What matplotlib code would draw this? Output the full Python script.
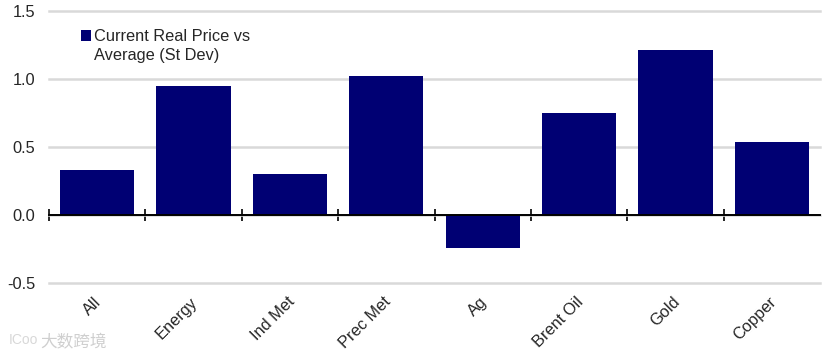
import matplotlib
matplotlib.use('Agg')
import matplotlib.pyplot as plt
from matplotlib.patches import Patch
from matplotlib.transforms import ScaledTranslation

categories = ['All', 'Energy', 'Ind Met', 'Prec Met', 'Ag', 'Brent Oil', 'Gold', 'Copper']
values = [0.33, 0.95, 0.30, 1.02, -0.24, 0.75, 1.21, 0.54]
y_ticks = [-0.5, 0.0, 0.5, 1.0, 1.5]
series_lines = ['Current Real Price vs', 'Average (St Dev)']

plt.rcParams['font.family'] = ['Liberation Sans', 'DejaVu Sans']
text_color = '#262626'

fig = plt.figure(figsize=(8.22, 3.58), dpi=100)
ax = fig.add_axes([49 / 822, 1 - 283 / 358, 771 / 822, 272 / 358])

x = range(len(categories))
bars = ax.bar(x, values, width=0.77, color='#000073', zorder=3)

ax.set_xlim(-0.5, len(categories) - 0.5)
ax.set_ylim(-0.5, 1.5)
ax.set_yticks(y_ticks)
ax.set_yticklabels(['%.1f' % t for t in y_ticks], fontsize=11.8, color=text_color)
ax.tick_params(axis='y', length=0, pad=10)
ax.grid(axis='y', color='#d9d9d9', linewidth=1.8, zorder=0, clip_on=False)
ax.set_axisbelow(True)

for side in ['top', 'right', 'left']:
    ax.spines[side].set_visible(False)
ax.spines['bottom'].set_position(('data', 0))
ax.spines['bottom'].set_linewidth(1.4)
ax.spines['bottom'].set_zorder(4)

# category labels sit below the plot, tick marks go between the bars
ax.set_xticks(list(x))
ax.set_xticklabels(categories, rotation=45, ha='right', va='center',
                   rotation_mode='anchor', fontsize=11.8, color=text_color)
ax.tick_params(axis='x', which='major', length=0, pad=61)
nudge = ScaledTranslation(2 / 100, 0, fig.dpi_scale_trans)
for label in ax.get_xticklabels():
    label.set_transform(label.get_transform() + nudge)
ax.set_xticks([i - 0.5 for i in range(len(categories))], minor=True)
ax.tick_params(axis='x', which='minor', direction='inout', length=9, width=1.2)

# second legend row has an empty handle so the square stays on the first line
leg = ax.legend(handles=[bars, Patch(alpha=0)], labels=series_lines,
                loc='upper left', bbox_to_anchor=(0.0311, 0.963), frameon=False,
                fontsize=11.8, handlelength=0.6, handleheight=0.6, handletextpad=0.2,
                labelspacing=0.22, borderpad=0, labelcolor=text_color)

# watermark
fig.text(40 / 822, 1 - 343 / 358, '大数跨境', fontsize=12, color='#cfcfcf', va='center',
         family=['Noto Sans CJK SC', 'DejaVu Sans'])
fig.text(9 / 822, 1 - 340 / 358, 'ICoo', fontsize=10, color='#d8d8d8', va='center')

fig.savefig('out.png', dpi=100)
